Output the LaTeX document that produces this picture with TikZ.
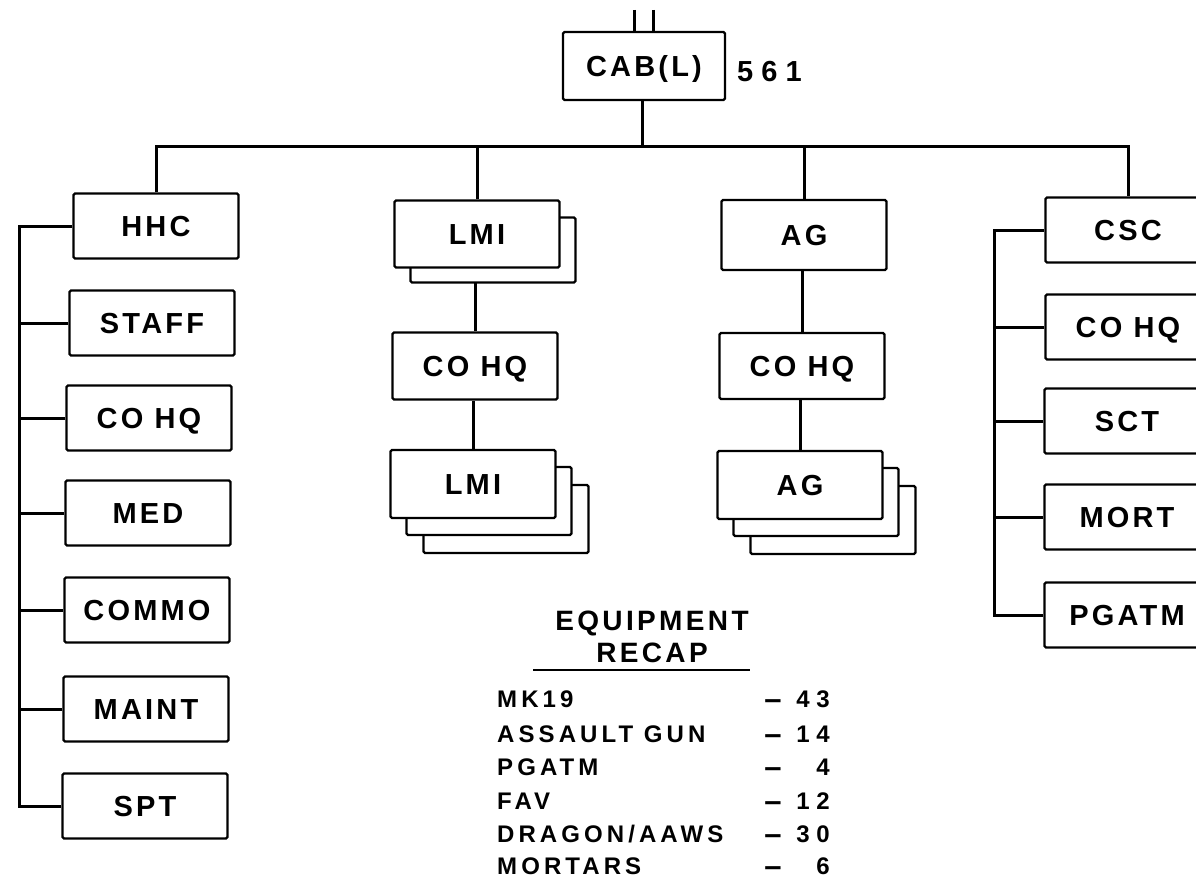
\documentclass[tikz,border=0pt]{standalone}
\usepackage{fontspec}
\setmainfont{Liberation Sans}
\newfontfamily\boxfam{Liberation Sans}[LetterSpace=11]
\newfontfamily\listfam{Liberation Sans}[LetterSpace=17]
\newfontfamily\titlefam{Liberation Sans}[LetterSpace=12]
\newfontfamily\numfam{Liberation Sans}[LetterSpace=28]
\usetikzlibrary{backgrounds}
\tikzset{
  unit/.style={draw, line width=2.4pt, fill=white, rounded corners=1.5pt,
    minimum width=165pt, minimum height=65pt, inner sep=0pt,
    text height=21pt, text depth=0pt,
    font=\boxfam\bfseries\fontsize{29}{29}\selectfont},
  link/.style={line width=3pt},
  listtxt/.style={inner sep=0pt, text height=17pt, text depth=0pt,
    font=\listfam\bfseries\fontsize{24}{24}\selectfont},
  dashtxt/.style={inner sep=0pt, text height=20pt, text depth=0pt,
    font=\bfseries\fontsize{31}{31}\selectfont},
  numtxt/.style={inner sep=0pt, text height=17pt, text depth=0pt,
    font=\numfam\bfseries\fontsize{24}{24}\selectfont},
  titletxt/.style={inner sep=0pt, text height=20pt, text depth=0pt,
    font=\titlefam\bfseries\fontsize{28}{28}\selectfont},
  bignum/.style={inner sep=0pt, text height=21pt, text depth=0pt,
    font=\numfam\bfseries\fontsize{29}{29}\selectfont}
}
\begin{document}
\begin{tikzpicture}[x=1pt,y=-1pt]
\useasboundingbox (0,0) rectangle (1196,880);

% top
\node[unit, minimum width=162pt, minimum height=68pt] (cab) at (644,66) {CAB(L)};
\node[bignum, anchor=west] (num) at (737,71) {561};
\coordinate (s1) at (634,10);
\coordinate (s2) at (653,10);
\coordinate (bus) at (642,146);

% left column
\node[unit] (hhc)   at (156,226) {HHC};
\node[unit] (staff) at (152,323) {STAFF};
\node[unit] (cohqa) at (149,418) {CO HQ};
\node[unit] (med)   at (148,513) {MED};
\node[unit] (commo) at (147,610) {COMMO};
\node[unit] (maint) at (146,709) {MAINT};
\node[unit] (spt)   at (145,806) {SPT};
\coordinate (lx) at (19,0);

% LMI column
\node[unit] (lmis)  at (493,250) {};
\node[unit, minimum height=67pt] (lmi) at (477,234) {LMI};
\node[unit, minimum height=67pt] (cohqb) at (475,366) {CO HQ};
\node[unit, minimum height=68pt] (lmibs2) at (506,519) {};
\node[unit, minimum height=68pt] (lmibs1) at (489,501) {};
\node[unit, minimum height=68pt] (lmib) at (473,484) {LMI};

% AG column
\node[unit, minimum height=70pt] (ag) at (804,235) {AG};
\node[unit, minimum height=66pt] (cohqc) at (802,366) {CO HQ};
\node[unit, minimum height=68pt] (agbs2) at (833,520) {};
\node[unit, minimum height=68pt] (agbs1) at (816,502) {};
\node[unit, minimum height=68pt] (agb) at (800,485) {AG};

% right column
\node[unit] (csc)   at (1128,230) {CSC};
\node[unit] (cohqd) at (1128,327) {CO HQ};
\node[unit] (sct)   at (1127,421) {SCT};
\node[unit] (mort)  at (1127,517) {MORT};
\node[unit] (pgatm) at (1127,615) {PGATM};
\coordinate (rx) at (994,0);

% equipment recap
\node[titletxt] (eq) at (652,620) {EQUIPMENT};
\node[titletxt] (rc) at (652,652) {RECAP};
\coordinate (ul1) at (533,670);
\coordinate (ul2) at (750,670);
\draw[line width=2.5pt] (ul1) -- (ul2);

\node[listtxt, anchor=west] (i1) at (497,699) {MK19};
\node[listtxt, anchor=west] (i2) at (497,734) {ASSAULT GUN};
\node[listtxt, anchor=west] (i3) at (497,767) {PGATM};
\node[listtxt, anchor=west] (i4) at (497,801) {FAV};
\node[listtxt, anchor=west] (i5) at (497,834) {DRAGON/AAWS};
\node[listtxt, anchor=west] (i6) at (497,866) {MORTARS};
\foreach \y/\n/\v in {699/1/43,734/2/14,767/3/4,801/4/12,834/5/30,866/6/6}{
  \node[dashtxt] (d\n) at (773,\y) {–};
  \node[numtxt, anchor=east] (v\n) at (830,\y) {\v};
}

\begin{pgfonlayer}{background}
\draw[link] (s1) -- (s1 |- cab.north);
\draw[link] (s2) -- (s2 |- cab.north);
\draw[link] (cab.south -| bus) -- (bus);
\draw[link] (hhc.north) |- (csc.north |- bus) -- (csc.north);
\draw[link] (lmi.north) -- (lmi.north |- bus);
\draw[link] (ag.north) -- (ag.north |- bus);
% left
\draw[link] (hhc.west) -| (lx |- spt.west) -- (spt.west);
\foreach \n in {staff,cohqa,med,commo,maint}
  \draw[link] (\n.west) -- (\n.west -| lx);
% right
\draw[link] (csc.west) -| (rx |- pgatm.west) -- (pgatm.west);
\foreach \n in {cohqd,sct,mort}
  \draw[link] (\n.west) -- (\n.west -| rx);
% middle chains
\draw[link] (cohqb.north) -- (cohqb.north |- lmi.south);
\draw[link] (lmib.north) -- (lmib.north |- cohqb.south);
\draw[link] (cohqc.north) -- (cohqc.north |- ag.south);
\draw[link] (agb.north) -- (agb.north |- cohqc.south);
\end{pgfonlayer}
\end{tikzpicture}
\end{document}
